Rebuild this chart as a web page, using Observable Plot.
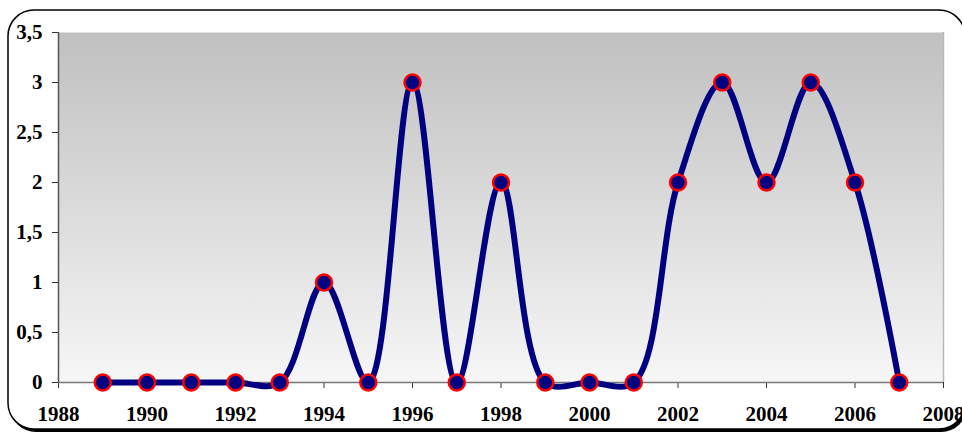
<!DOCTYPE html>
<html>
<head>
<meta charset="utf-8">
<script src="https://cdn.jsdelivr.net/npm/d3@7"></script>
<script src="https://cdn.jsdelivr.net/npm/@observablehq/plot@0.6"></script>
<style>
  html, body { margin: 0; padding: 0; background: #fff; }
  #chart svg { display: block; }
</style>
</head>
<body>
<div id="chart"></div>
<script>
// Yearly counts, 1989–2007
const years  = [1989, 1990, 1991, 1992, 1993, 1994, 1995, 1996, 1997, 1998,
                1999, 2000, 2001, 2002, 2003, 2004, 2005, 2006, 2007];
const counts = [0, 0, 0, 0, 0, 1, 0, 3, 0, 2,
                0, 0, 0, 2, 3, 2, 3, 2, 0];

// Axis ticks
const xTicks = [1988, 1990, 1992, 1994, 1996, 1998, 2000, 2002, 2004, 2006, 2008];
const yTicks = [0, 0.5, 1, 1.5, 2, 2.5, 3, 3.5];

const data = years.map((year, i) => ({year, count: counts[i]}));
const commaDecimal = d => String(d).replace(".", ",");

const W = 962, H = 434;

const chart = Plot.plot({
  width: W,
  height: H,
  marginLeft: 58,
  marginRight: 19,
  marginTop: 32,
  marginBottom: 52,
  style: {
    fontFamily: "'Palatino Linotype', 'Book Antiqua', Palatino, 'Liberation Serif', serif",
    fontSize: "21px",
    fontWeight: "bold",
    color: "#000",
    background: "transparent",
    overflow: "visible"
  },
  x: {type: "linear", domain: [1988, 2008]},
  y: {domain: [0, 3.5]},
  marks: [
    // plot-area gradient background
    Plot.frame({fill: "url(#plotBg)", stroke: null}),
    // light right border of the plot area
    Plot.ruleX([2008], {stroke: "#b8b8b8", strokeWidth: 1.5}),
    Plot.axisY({ticks: yTicks, tickFormat: commaDecimal, tickSize: 6, tickPadding: 10,
                stroke: "#333", label: null, fill: "#000"}),
    Plot.axisX({ticks: xTicks, tickFormat: d => String(d), tickSize: 6, tickPadding: 18,
                stroke: "#333", label: null, fill: "#000"}),
    Plot.ruleY([0], {stroke: "#777", strokeWidth: 1.5}),
    Plot.ruleX([1988], {stroke: "#555", strokeWidth: 1.5}),
    Plot.line(data, {x: "year", y: "count", curve: "catmull-rom",
                     stroke: "#000080", strokeWidth: 6, strokeLinejoin: "round"}),
    Plot.dot(data, {x: "year", y: "count", r: 8,
                    fill: "#000080", stroke: "#ff0000", strokeWidth: 2.5})
  ]
});

const svg = d3.select(chart);

// gradient definition for the plot background
const defs = svg.insert("defs", ":first-child");
const grad = defs.append("linearGradient")
  .attr("id", "plotBg").attr("x1", 0).attr("y1", 0).attr("x2", 0).attr("y2", 1);
grad.append("stop").attr("offset", "0%").attr("stop-color", "#c0c0c0");
grad.append("stop").attr("offset", "100%").attr("stop-color", "#f6f6f6");

// rounded chart border with a drop shadow, drawn behind everything
const border = svg.insert("g", "defs + *");
border.append("rect")
  .attr("x", 10).attr("y", 13).attr("width", 957).attr("height", 419)
  .attr("rx", 26).attr("ry", 26)
  .attr("fill", "#000");
border.append("rect")
  .attr("x", 8).attr("y", 10).attr("width", 957).attr("height", 419)
  .attr("rx", 26).attr("ry", 26)
  .attr("fill", "#fff").attr("stroke", "#000").attr("stroke-width", 1.5);

document.getElementById("chart").appendChild(chart);
</script>
</body>
</html>
